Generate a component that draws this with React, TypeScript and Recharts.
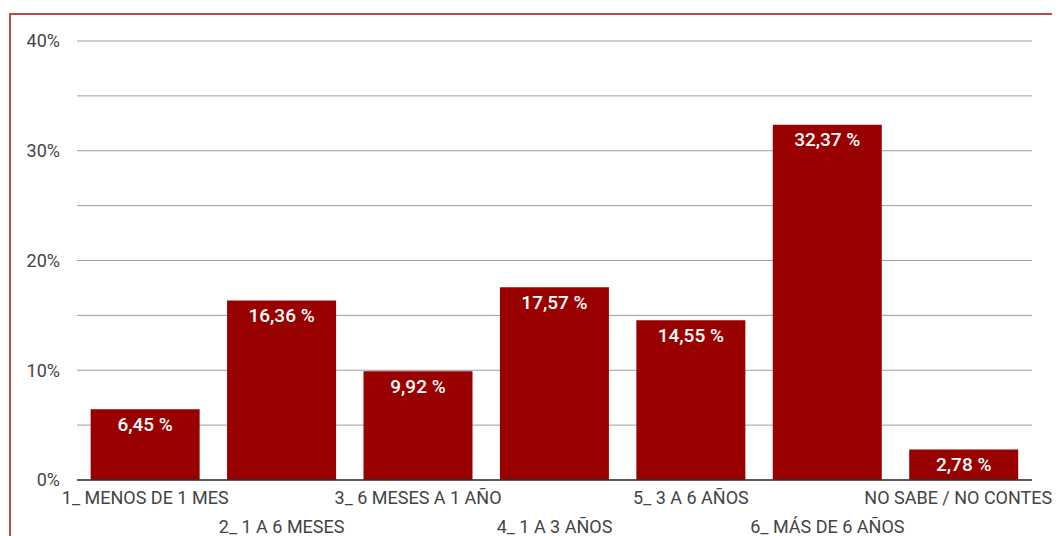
import React from 'react';
import { BarChart, Bar, XAxis, YAxis, CartesianGrid, LabelList } from 'recharts';

const categories = [
  '1_ MENOS DE 1 MES',
  '2_ 1 A 6 MESES',
  '3_ 6 MESES A 1 AÑO',
  '4_ 1 A 3 AÑOS',
  '5_ 3 A 6 AÑOS',
  '6_ MÁS DE 6 AÑOS',
  'NO SABE / NO CONTES.',
];
const values = [6.45, 16.36, 9.92, 17.57, 14.55, 32.37, 2.78];
const yTicks = [0, 5, 10, 15, 20, 25, 30, 35, 40];

const data = categories.map((c, i) => ({ name: c, value: values[i] }));

const FONT = 'Roboto, "Noto Sans", sans-serif';
const CHART_W = 1052;

const XTick = (props: any) => {
  const { x, y, payload, index } = props;
  const dy = index % 2 === 0 ? 17 : 46;
  const isLast = index === categories.length - 1;
  return (
    <text
      x={isLast ? CHART_W - 3 : x}
      y={y + dy}
      textAnchor={isLast ? 'end' : 'middle'}
      dominantBaseline="central"
      fill="#444"
      fontSize={18}
      fontFamily={FONT}
    >
      {payload.value}
    </text>
  );
};

const ValueLabel = (props: any) => {
  const { x, y, width, value } = props;
  return (
    <text
      x={x + width / 2}
      y={y + 15}
      textAnchor="middle"
      dominantBaseline="central"
      fill="#ffffff"
      fontSize={19}
      fontWeight={500}
      fontFamily={FONT}
    >
      {`${Number(value).toFixed(2).replace('.', ',')} %`}
    </text>
  );
};

export default function App() {
  return (
    <div style={{ position: 'relative', width: CHART_W, height: 528, overflow: 'hidden', background: '#fff' }}>
      <div
        style={{
          position: 'absolute',
          left: 1,
          top: 5,
          width: 1200,
          height: 700,
          borderTop: '2px solid #b94a48',
          borderLeft: '2px solid #b94a48',
        }}
      />
      <div style={{ position: 'absolute', left: 0, top: 0 }}>
        <BarChart
          width={CHART_W}
          height={528}
          data={data}
          margin={{ top: 33, right: 28, bottom: 0, left: 0 }}
          barCategoryGap="10%"
        >
          <CartesianGrid vertical={false} stroke="#9e9e9e" strokeWidth={1} />
          <XAxis
            dataKey="name"
            interval={0}
            tickLine={false}
            tickSize={0}
            tickMargin={0}
            height={56}
            axisLine={{ stroke: '#333', strokeWidth: 1.5 }}
            tick={<XTick />}
          />
          <YAxis
            domain={[0, 40]}
            ticks={yTicks}
            interval={0}
            width={69}
            axisLine={false}
            tickLine={false}
            tickSize={0}
            tickMargin={17}
            tickFormatter={(v: number) => (v % 10 === 0 ? `${v}%` : '')}
            tick={{ fill: '#444', fontSize: 18, fontFamily: FONT }}
          />
          <Bar dataKey="value" fill="#990000" isAnimationActive={false}>
            <LabelList dataKey="value" content={<ValueLabel />} />
          </Bar>
        </BarChart>
      </div>
    </div>
  );
}
